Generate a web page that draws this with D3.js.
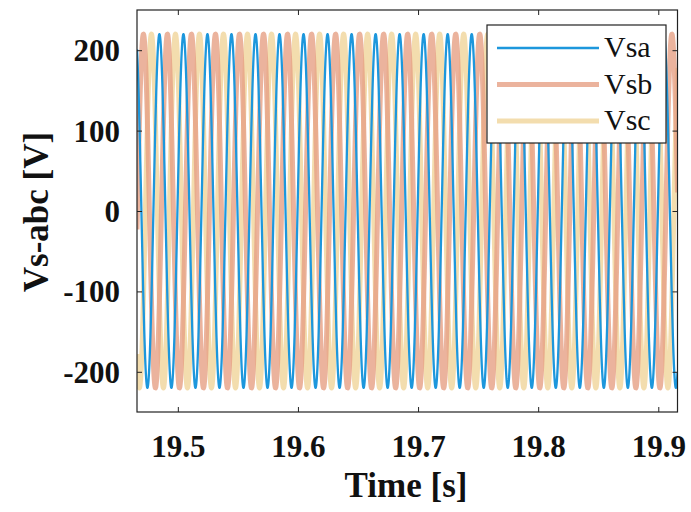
<!DOCTYPE html>
<html>
<head>
<meta charset="utf-8">
<script src="https://cdn.jsdelivr.net/npm/d3@7/dist/d3.min.js"></script>
<style>
  html, body { margin: 0; padding: 0; background: #fff; }
  svg { display: block; }
</style>
</head>
<body>
<svg id="chart" width="691" height="512"></svg>
<script>
// ---- data ----
const seriesNames = ["Vsa", "Vsb", "Vsc"];
const amplitudes = [220, 220, 220];          // V (peak)
const frequencyHz = [50, 50, 50];            // Hz
const phaseDeg = [6, -114, 126];             // phase at t = 19.5 s (sin reference)
const timeRange = [19.466, 19.916];          // s
const xTicks = [19.5, 19.6, 19.7, 19.8, 19.9];
const yTicks = [-200, -100, 0, 100, 200];
const yRange = [-250, 250];
const sampleStep = 0.0002;                   // s

const colors = ["#1d97dc", "#e6a084", "#f0d49a"];
const widths = [2.3, 5, 5];
const opac = [1, 0.8, 0.8];

// ---- layout ----
const serifFamily = '"Liberation Serif"';
const svg = d3.select("#chart");
const mLeft = 137, mRight = 677.5, mTop = 10, mBottom = 412;

const x = d3.scaleLinear().domain(timeRange).range([mLeft, mRight]);
const y = d3.scaleLinear().domain(yRange).range([mBottom, mTop]);

const times = d3.range(timeRange[0], timeRange[1] + sampleStep / 2, sampleStep);
const series = seriesNames.map((name, i) => ({
  name,
  values: times.map(t => ({
    t,
    v: amplitudes[i] * Math.sin(2 * Math.PI * frequencyHz[i] * (t - 19.5) + phaseDeg[i] * Math.PI / 180)
  }))
}));

svg.append("defs").append("clipPath").attr("id", "clip")
  .append("rect").attr("x", mLeft).attr("y", mTop).attr("width", mRight - mLeft).attr("height", mBottom - mTop);

const line = d3.line().x(d => x(d.t)).y(d => y(d.v));

const g = svg.append("g").attr("clip-path", "url(#clip)");
[2, 1, 0].forEach(i => {
  g.append("path")
    .datum(series[i].values)
    .attr("fill", "none")
    .attr("stroke", colors[i])
    .attr("stroke-width", widths[i])
    .attr("stroke-opacity", opac[i])
    .attr("stroke-linejoin", "round")
    .attr("d", line);
});

// ---- axes ----
const tickLen = 5;

const xAxisB = d3.axisBottom(x).tickValues(xTicks).tickSizeInner(-tickLen).tickSizeOuter(0).tickPadding(0).tickFormat(d3.format(".1f"));
const xAxisT = d3.axisTop(x).tickValues(xTicks).tickSizeInner(-tickLen).tickSizeOuter(0).tickFormat("");
const yAxisL = d3.axisLeft(y).tickValues(yTicks).tickSizeInner(-tickLen).tickSizeOuter(0).tickPadding(0).tickFormat(d => String(d));
const yAxisR = d3.axisRight(y).tickValues(yTicks).tickSizeInner(-tickLen).tickSizeOuter(0).tickFormat("");

function styleAxis(sel) {
  sel.attr("font-family", serifFamily).attr("font-size", null);
  sel.select(".domain").remove();
  sel.selectAll(".tick line").attr("stroke", "#222").attr("stroke-width", 1);
  sel.selectAll("text")
    .style("font-family", serifFamily)
    .style("font-weight", "bold")
    .style("font-size", "31px")
    .attr("fill", "#111");
}

const gxb = svg.append("g").attr("transform", `translate(0,${mBottom})`).call(xAxisB).call(styleAxis);
gxb.selectAll("text").attr("dy", null).attr("y", 45);
svg.append("g").attr("transform", `translate(0,${mTop})`).call(xAxisT).call(styleAxis);
const gyl = svg.append("g").attr("transform", `translate(${mLeft},0)`).call(yAxisL).call(styleAxis);
gyl.selectAll("text").attr("x", -17).attr("dy", "0.34em");
svg.append("g").attr("transform", `translate(${mRight},0)`).call(yAxisR).call(styleAxis);

// box
svg.append("rect")
  .attr("x", mLeft).attr("y", mTop).attr("width", mRight - mLeft).attr("height", mBottom - mTop)
  .attr("fill", "none").attr("stroke", "#222").attr("stroke-width", 1.2);

// axis labels
svg.append("text")
  .attr("x", 406).attr("y", 497)
  .attr("text-anchor", "middle")
  .style("font-family", serifFamily).style("font-weight", "bold").style("font-size", "35px")
  .attr("fill", "#111")
  .text("Time [s]");

svg.append("text")
  .attr("transform", `translate(48,212) rotate(-90)`)
  .attr("text-anchor", "middle")
  .style("font-family", serifFamily).style("font-weight", "bold").style("font-size", "35px")
  .attr("fill", "#111")
  .text("Vs-abc [V]");

// legend
const lg = svg.append("g");
lg.append("rect").attr("x", 487).attr("y", 25).attr("width", 179).attr("height", 118)
  .attr("fill", "#fff").attr("stroke", "#222").attr("stroke-width", 1.2);
seriesNames.forEach((name, i) => {
  const yy = 48 + i * 36.5;
  lg.append("line").attr("x1", 497).attr("x2", 599).attr("y1", yy).attr("y2", yy)
    .attr("stroke", colors[i]).attr("stroke-width", widths[i]).attr("stroke-opacity", opac[i]);
  lg.append("text").attr("x", 604).attr("y", yy + 9)
    .style("font-family", serifFamily).style("font-size", "30px")
    .attr("fill", "#111")
    .text(name);
});
</script>
</body>
</html>
